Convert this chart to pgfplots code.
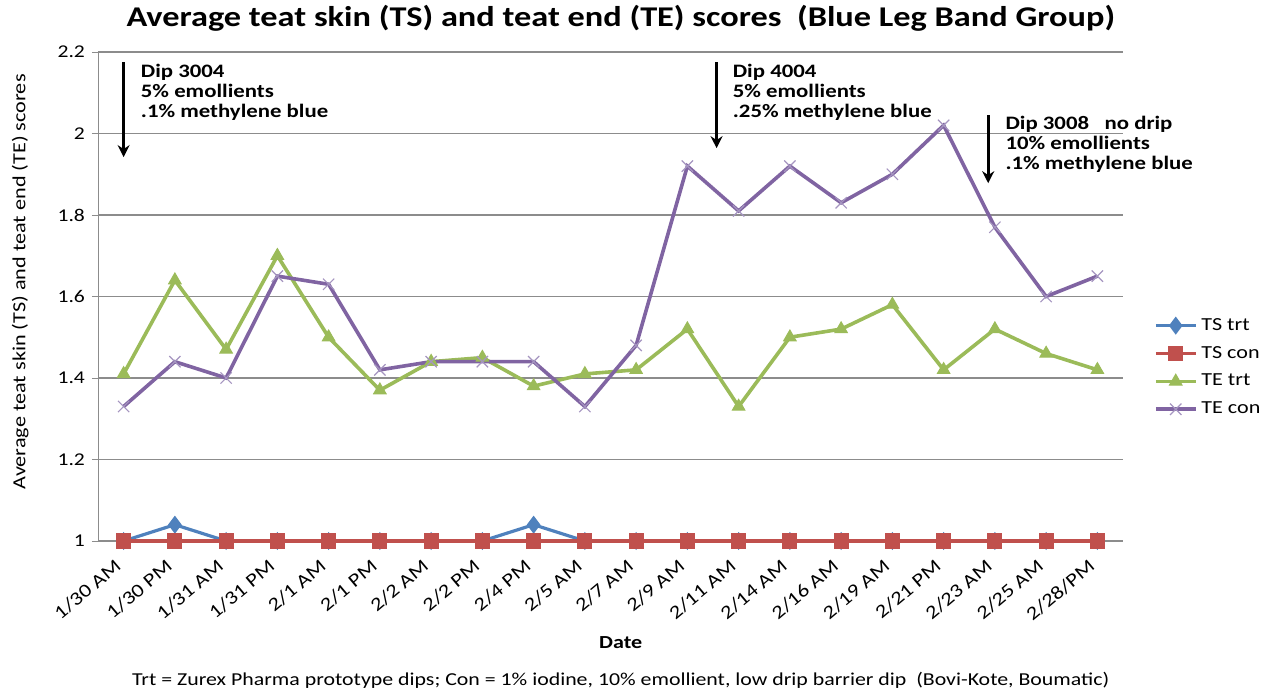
\documentclass[border=0pt]{standalone}
\usepackage{pgfplots}
\pgfplotsset{compat=1.18}
\usetikzlibrary{arrows.meta}
\usepackage{fontspec}
\setmainfont{Carlito}[FakeStretch=1.2]
\definecolor{cblue}{HTML}{4F81BD}
\definecolor{cred}{HTML}{C0504D}
\definecolor{cgreen}{HTML}{9BBB59}
\definecolor{cpurple}{HTML}{8064A2}
\definecolor{cxmark}{HTML}{A595C0}
\definecolor{gridgray}{HTML}{8C8C8C}
\begin{document}
\begin{tikzpicture}
\path[use as bounding box] (-49pt,-76.5pt) rectangle (582pt,270.5pt);
\begin{axis}[
  at={(0pt,0pt)}, anchor=south west,
  scale only axis,
  width=512.5pt, height=244.5pt,
  xmin=-0.5, xmax=19.5,
  ymin=1, ymax=2.2,
  ytick={1,1.2,1.4,1.6,1.8,2,2.2},
  yticklabels={1,1.2,1.4,1.6,1.8,2,2.2},
  xtick={0,...,19},
  xticklabels={1/30 AM,1/30 PM,1/31 AM,1/31 PM,2/1 AM,2/1 PM,2/2 AM,2/2 PM,2/4 PM,2/5 AM,2/7 AM,2/9 AM,2/11 AM,2/14 AM,2/16 AM,2/19 AM,2/21 PM,2/23 AM,2/25 AM,2/28/PM},
  x tick label style={xshift=-4.5pt, yshift=-0.8pt, rotate=40, anchor=north east, font=\fontsize{9.4}{10}\selectfont},
  y tick label style={font=\fontsize{9}{10}\selectfont},
  major x tick style={draw=none},
  ytick style={gridgray},
  tick align=outside,
  major tick length=3pt,
  axis x line*=bottom,
  axis y line*=left,
  axis line style={gridgray, -},
  ymajorgrids,
  grid style={gridgray, line width=0.6pt},
  clip=false,
  title={\textbf{Average teat skin (TS) and teat end (TE) scores\ \ (Blue Leg Band Group)}},
  title style={at={(axis description cs:0.51,1)}, yshift=11pt, anchor=center, font=\fontsize{14.3}{16}\selectfont},
  xlabel={\textbf{Date}},
  xlabel style={at={(axis description cs:0.51,0)}, yshift=-51pt, anchor=center, font=\fontsize{9.2}{11}\selectfont},
  ylabel={Average teat skin (TS) and teat end (TE) scores},
  ylabel style={at={(axis description cs:-0.076,0.53)}, anchor=center, font=\fontsize{9.25}{11}\selectfont},
  legend style={at={(1.024,0.355)}, anchor=west, draw=none, fill=none, font=\fontsize{9.2}{11}\selectfont, row sep=2.5pt},
  legend cell align=left,
  legend image code/.code={\draw[#1] (0cm,0cm) -- (0.7cm,0cm); \draw[#1, mark repeat=1] plot coordinates {(0.35cm,0cm)};},
]
\addplot[cblue, line width=1.6pt, mark=diamond*, mark size=3.2pt, mark options={solid, fill=cblue}] coordinates {
(0,1)(1,1.04)(2,1)(3,1)(4,1)(5,1)(6,1)(7,1)(8,1.04)(9,1)(10,1)(11,1)(12,1)(13,1)(14,1)(15,1)(16,1)(17,1)(18,1)(19,1)};
\addlegendentry{TS trt}
\addplot[cred, line width=1.6pt, mark=square*, mark size=3pt, mark options={solid, fill=cred}] coordinates {
(0,1)(1,1)(2,1)(3,1)(4,1)(5,1)(6,1)(7,1)(8,1)(9,1)(10,1)(11,1)(12,1)(13,1)(14,1)(15,1)(16,1)(17,1)(18,1)(19,1)};
\addlegendentry{TS con}
\addplot[cgreen, line width=1.8pt, mark=triangle*, mark size=3.6pt, mark options={solid, fill=cgreen, line width=0.5pt}] coordinates {
(0,1.41)(1,1.64)(2,1.47)(3,1.70)(4,1.50)(5,1.37)(6,1.44)(7,1.45)(8,1.38)(9,1.41)(10,1.42)(11,1.52)(12,1.33)(13,1.50)(14,1.52)(15,1.58)(16,1.42)(17,1.52)(18,1.46)(19,1.42)};
\addlegendentry{TE trt}
\addplot[cpurple, line width=1.8pt, mark=x, mark size=4pt, mark options={solid, draw=cxmark, line width=0.6pt}] coordinates {
(0,1.33)(1,1.44)(2,1.40)(3,1.65)(4,1.63)(5,1.42)(6,1.44)(7,1.44)(8,1.44)(9,1.33)(10,1.48)(11,1.92)(12,1.81)(13,1.92)(14,1.83)(15,1.90)(16,2.02)(17,1.77)(18,1.60)(19,1.65)};
\addlegendentry{TE con}
% annotations
\draw[-{Stealth[length=6pt,width=6pt]}, line width=1.3pt, black] (axis cs:0,2.175) -- (axis cs:0,1.942);
\draw[-{Stealth[length=6pt,width=6pt]}, line width=1.3pt, black] (axis cs:11.57,2.175) -- (axis cs:11.57,1.964);
\draw[-{Stealth[length=6pt,width=6pt]}, line width=1.3pt, black] (axis cs:16.87,2.045) -- (axis cs:16.87,1.878);
\node[anchor=north west, align=left, font=\bfseries\fontsize{9.5}{10}\selectfont, inner sep=0pt] at (axis cs:0.33,2.172) {Dip 3004\\5\% emollients\\.1\% methylene blue};
\node[anchor=north west, align=left, font=\bfseries\fontsize{9.5}{10}\selectfont, inner sep=0pt] at (axis cs:11.88,2.172) {Dip 4004\\5\% emollients\\.25\% methylene blue};
\node[anchor=north west, align=left, font=\bfseries\fontsize{9.5}{10}\selectfont, inner sep=0pt] at (axis cs:17.2,2.043) {Dip 3008\ \ \ no drip\\10\% emollients\\.1\% methylene blue};
\node[anchor=center, font=\fontsize{9.1}{11}\selectfont] at ([yshift=-69.5pt]axis description cs:0.51,0) {Trt = Zurex Pharma prototype dips; Con = 1\% iodine, 10\% emollient, low drip barrier dip\ \ (Bovi-Kote, Boumatic)};
\end{axis}
\end{tikzpicture}
\end{document}
